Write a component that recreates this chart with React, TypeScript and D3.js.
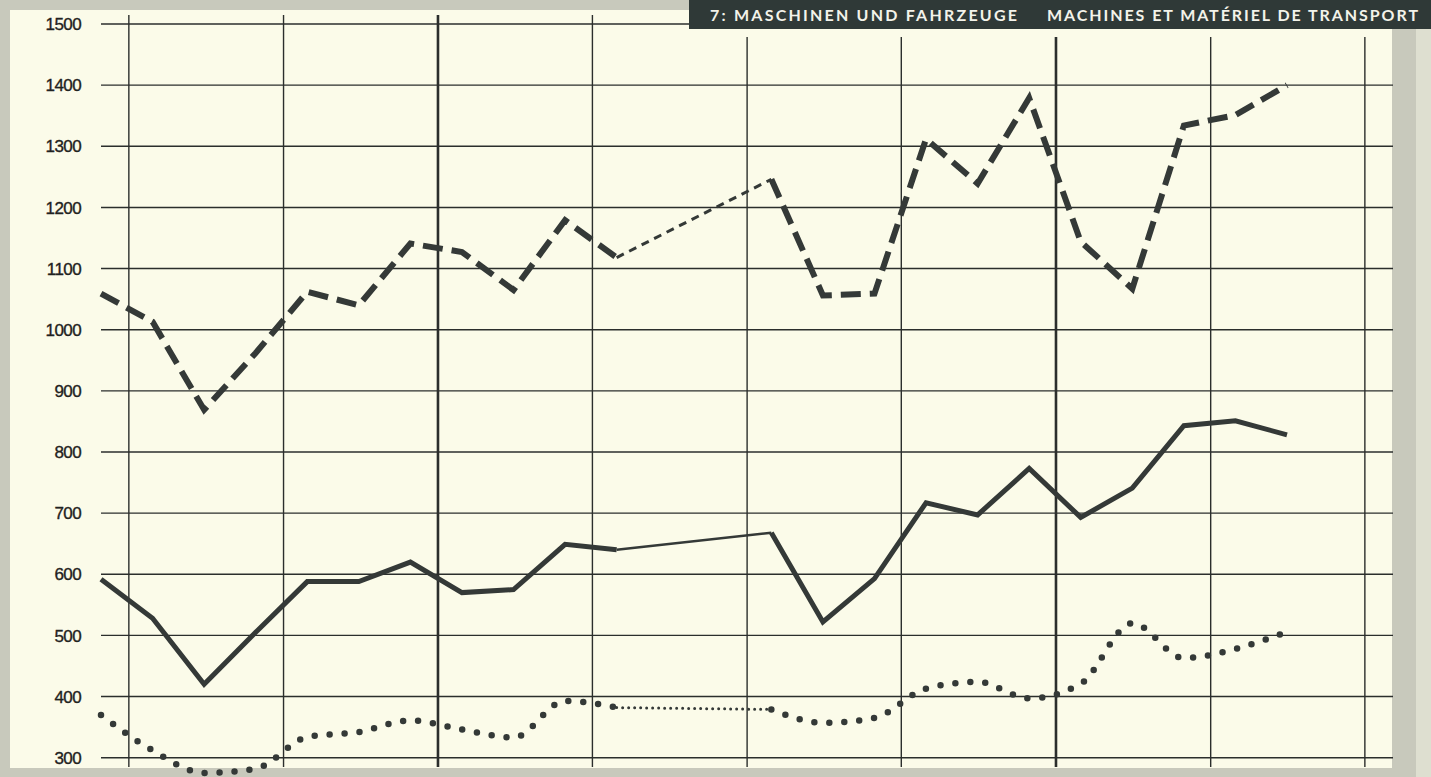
import React from 'react';
import * as d3 from 'd3';

const W = 1431;
const H = 777;

// period index (three readings per grid interval)
const periods = [0, 1, 2, 3, 4, 5, 6, 7, 8, 9, 10, 11, 12, 13, 14, 15, 16, 17, 18, 19, 20, 21, 22, 23];

// dashed series (top)
const dashedValues: (number | null)[] = [1059, 1013, 869, 962, 1062, 1040, 1141, 1127, 1065, 1179, 1118, null, null, 1246, 1056, 1059, 1312, 1239, 1379, 1144, 1067, 1334, 1351, 1400];
// solid series (middle)
const solidValues: (number | null)[] = [592, 528, 420, 505, 588, 588, 620, 570, 575, 649, 640, null, null, 668, 522, 593, 717, 697, 773, 693, 741, 843, 851, 828];
// dotted series (bottom)
const dottedValues: (number | null)[] = [370, 312, 275, 282, 334, 342, 361, 346, 333, 393, 382, null, null, 379, 357, 365, 413, 424, 397, 421, 520, 463, 478, 506];

const yTicks = [300, 400, 500, 600, 700, 800, 900, 1000, 1100, 1200, 1300, 1400, 1500];
const verticalGrid = [0.54, 3.54, 6.535, 9.53, 12.53, 15.52, 18.52, 21.52, 24.51];
const heavyGrid = [6.535, 18.52];

const titleDe = '7: MASCHINEN UND FAHRZEUGE';
const titleFr = 'MACHINES ET MATÉRIEL DE TRANSPORT';

const INK = '#343937';
const GRID = '#2b2e2c';
const CREAM = '#fbfbe9';
const GRAY = '#c8c9bc';

const x = d3.scaleLinear().domain([0, 23]).range([101, 1287]);
const y = d3.scaleLinear().domain([300, 1500]).range([757.7, 24]);

type Pt = { i: number; v: number | null };

function toPts(vals: (number | null)[]): Pt[] {
  return periods.map((i) => ({ i, v: vals[i] }));
}

function gapPairs(pts: Pt[]): [Pt, Pt][] {
  const out: [Pt, Pt][] = [];
  const def = pts.filter((p) => p.v !== null);
  for (let k = 0; k < def.length - 1; k++) {
    if (def[k + 1].i - def[k].i > 1) out.push([def[k], def[k + 1]]);
  }
  return out;
}

function Series({ vals, curve, main, gap }: { vals: (number | null)[]; curve: any; main: any; gap: any }) {
  const pts = toPts(vals);
  const line = d3
    .line<Pt>()
    .defined((p) => p.v !== null)
    .x((p) => x(p.i))
    .y((p) => y(p.v as number))
    .curve(curve);
  const straight = d3
    .line<Pt>()
    .x((p) => x(p.i))
    .y((p) => y(p.v as number));
  return (
    <g fill="none" stroke={INK}>
      <path d={line(pts) || ''} {...main} />
      {gapPairs(pts).map((pair, k) => (
        <path key={k} d={straight(pair) || ''} {...gap} />
      ))}
    </g>
  );
}

export default function App() {
  const gridLeft = x(0);
  const gridRight = 1393;
  return (
    <svg
      width={W}
      height={H}
      viewBox={`0 0 ${W} ${H}`}
      style={{ position: 'absolute', left: 0, top: 0, display: 'block' }}
    >
      {/* paper & scan borders */}
      <rect x={0} y={0} width={W} height={H} fill={GRAY} />
      <rect x={1416} y={29} width={W - 1416} height={H - 29} fill="#dedfd0" />
      <rect x={10} y={10} width={1382} height={758} fill={CREAM} />

      {/* horizontal grid */}
      <g stroke={GRID} strokeWidth={1.4}>
        {yTicks.map((t) => (
          <line key={t} x1={gridLeft} x2={gridRight} y1={y(t)} y2={y(t)} />
        ))}
      </g>
      {/* vertical grid */}
      <g stroke={GRID}>
        {verticalGrid.map((g) => {
          const px = x(g);
          const heavy = heavyGrid.includes(g);
          return (
            <line
              key={g}
              x1={px}
              x2={px}
              y1={px < 689 ? 15 : 37}
              y2={767}
              strokeWidth={heavy ? 2.6 : 1.4}
            />
          );
        })}
      </g>

      {/* y labels */}
      <g
        fontFamily="'Liberation Sans', Arial, Helvetica, sans-serif"
        fontSize={17}
        fill="#1f2221"
        stroke="#1f2221"
        strokeWidth={0.35}
        textAnchor="end"
        letterSpacing={-0.6}
      >
        {yTicks.map((t) => (
          <text key={t} x={81} y={y(t)} dy="0.36em">
            {t}
          </text>
        ))}
      </g>

      {/* series */}
      <Series
        vals={dottedValues}
        curve={d3.curveMonotoneX}
        main={{ strokeWidth: 6.5, strokeDasharray: '0 15', strokeLinecap: 'round' }}
        gap={{ strokeWidth: 3, strokeDasharray: '0 6', strokeLinecap: 'round' }}
      />
      <Series
        vals={solidValues}
        curve={d3.curveLinear}
        main={{ strokeWidth: 5, strokeLinejoin: 'miter' }}
        gap={{ strokeWidth: 2.5 }}
      />
      <Series
        vals={dashedValues}
        curve={d3.curveLinear}
        main={{ strokeWidth: 6, strokeDasharray: '20 9' }}
        gap={{ strokeWidth: 3, strokeDasharray: '8 6' }}
      />

      {/* title box */}
      <rect x={689} y={0} width={W - 689} height={29} fill="#2f3937" />
      <g fontFamily="Lato, 'Open Sans', sans-serif" fontWeight={700} fontSize={16} fill="#f3f3ea">
        <text x={710} y={21} textLength={307} lengthAdjust="spacing">
          {titleDe}
        </text>
        <text x={1047} y={21} textLength={371} lengthAdjust="spacing">
          {titleFr}
        </text>
      </g>
    </svg>
  );
}
